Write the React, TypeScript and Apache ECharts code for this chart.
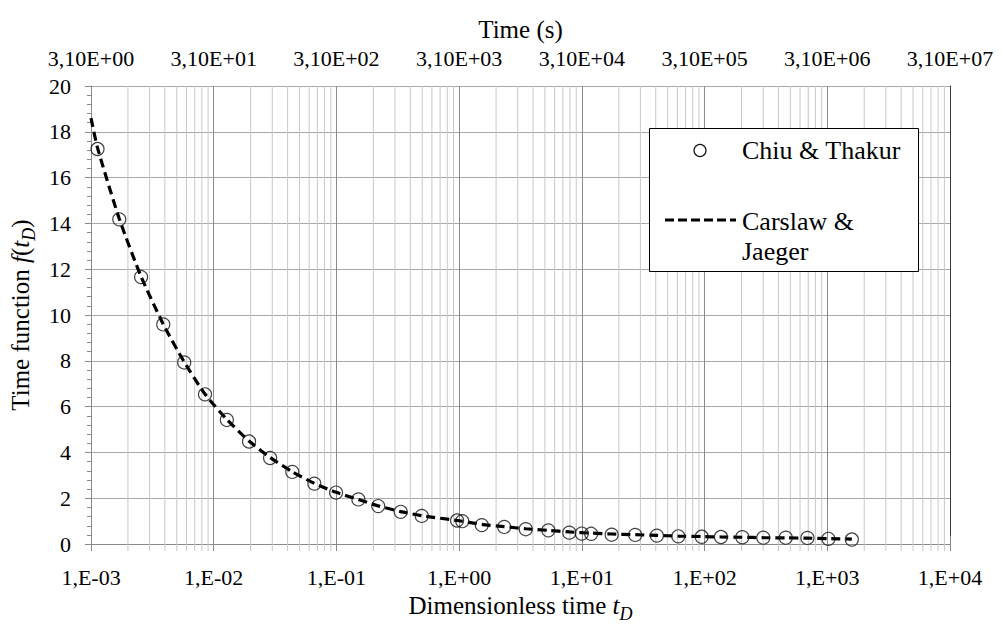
import React, { useEffect, useRef } from "react";
import * as echarts from "echarts";

// Chiu & Thakur values: dimensionless time and time function
const chiuT = [
  1.13e-3, 1.7e-3, 2.56e-3, 3.88e-3, 5.75e-3, 8.49e-3, 1.28e-2, 1.94e-2, 2.88e-2,
  4.37e-2, 6.61e-2, 9.93e-2, 0.151, 0.219, 0.334, 0.496, 0.962, 1.06, 1.53, 2.33,
  3.49, 5.33, 7.9, 9.98, 11.9, 17.5, 27.2, 40.8, 61.1, 94.8, 136, 203, 301, 459,
  689, 1021, 1585,
];
const chiuF = [
  17.25, 14.18, 11.66, 9.59, 7.93, 6.54, 5.42, 4.48, 3.76, 3.15, 2.64, 2.25, 1.95,
  1.66, 1.41, 1.23, 1.03, 1.0, 0.83, 0.75, 0.65, 0.6, 0.5, 0.46, 0.45, 0.41, 0.4,
  0.37, 0.34, 0.32, 0.31, 0.3, 0.28, 0.28, 0.27, 0.23, 0.2,
];

// Carslaw & Jaeger curve
const cjT = [
  1e-3, 1.13e-3, 1.7e-3, 2.56e-3, 3.88e-3, 5.75e-3, 8.49e-3, 1.28e-2, 1.94e-2,
  2.88e-2, 4.37e-2, 6.61e-2, 9.93e-2, 0.151, 0.219, 0.334, 0.496, 1.0, 1.53, 2.33,
  3.49, 5.33, 7.9, 11.9, 17.5, 27.2, 40.8, 61.1, 94.8, 136, 203, 301, 459, 689,
  1021, 1585,
];
const cjF = [
  18.6, 17.3, 14.2, 11.68, 9.6, 7.95, 6.55, 5.44, 4.5, 3.78, 3.16, 2.65, 2.26, 1.95,
  1.67, 1.42, 1.24, 1.02, 0.86, 0.76, 0.67, 0.6, 0.53, 0.48, 0.44, 0.41, 0.38, 0.35,
  0.33, 0.31, 0.3, 0.28, 0.27, 0.26, 0.24, 0.22,
];

// Axis ranges
const X_MIN = 1e-3;
const X_MAX = 1e4;
const Y_MIN = 0;
const Y_MAX = 20;
const Y_STEP = 2;
// Seconds per unit of dimensionless time (top axis)
const TIME_SCALE = 3100;

const FONT = "Liberation Serif, Times New Roman, serif";

const expStr = (e: number) => (e < 0 ? "-" : "+") + String(Math.abs(e)).padStart(2, "0");

const fmtBottom = (v: number) => "1,E" + expStr(Math.round(Math.log10(v)));

const fmtTop = (v: number) => {
  const t = v * TIME_SCALE;
  const e = Math.floor(Math.log10(t) + 1e-9);
  const m = t / Math.pow(10, e);
  return m.toFixed(2).replace(".", ",") + "E" + expStr(e);
};

// Minor log grid positions 2..9 x 10^k inside the x range
const minorGrid: number[] = [];
for (let k = Math.round(Math.log10(X_MIN)); k < Math.round(Math.log10(X_MAX)); k++) {
  for (let m = 2; m <= 9; m++) minorGrid.push(m * Math.pow(10, k));
}

const richName = {
  n: { fontFamily: FONT, fontSize: 25, color: "#000", verticalAlign: "top", lineHeight: 26 },
  it: {
    fontFamily: FONT,
    fontSize: 25,
    fontStyle: "italic",
    color: "#000",
    verticalAlign: "top",
    lineHeight: 26,
  },
  sub: {
    fontFamily: FONT,
    fontSize: 18,
    fontStyle: "italic",
    color: "#000",
    verticalAlign: "top",
    lineHeight: 18,
    padding: [12, 0, 0, 0],
  },
};

export default function App() {
  const ref = useRef<HTMLDivElement>(null);

  useEffect(() => {
    if (!ref.current) return;
    const chart = echarts.init(ref.current, null, { renderer: "svg" });

    const option: any = {
      animation: false,
      backgroundColor: "#fff",
      textStyle: { fontFamily: FONT },
      grid: { left: 91, right: 53, top: 86, bottom: 81.5, containLabel: false },
      xAxis: [
        {
          type: "log",
          logBase: 10,
          min: X_MIN,
          max: X_MAX,
          splitNumber: 10,
          position: "bottom",
          name: "{n|Dimensionless time }{it|t}{sub|D}",
          nameLocation: "middle",
          nameGap: 46,
          nameTextStyle: { fontFamily: FONT, rich: richName },
          axisLine: { show: true, lineStyle: { color: "#8a8a8a", width: 1 } },
          axisTick: { show: true, length: 7, lineStyle: { color: "#8a8a8a" } },
          minorTick: { show: false },
          axisLabel: {
            formatter: fmtBottom,
            fontFamily: FONT,
            fontSize: 22,
            color: "#000",
            margin: 22,
            showMinLabel: true,
            showMaxLabel: true,
          },
          splitLine: { show: true, lineStyle: { color: "#8a8a8a", width: 1 } },
        },
        {
          type: "log",
          logBase: 10,
          min: X_MIN,
          max: X_MAX,
          splitNumber: 10,
          position: "top",
          name: "Time (s)",
          nameLocation: "middle",
          nameGap: 41,
          nameTextStyle: { fontFamily: FONT, fontSize: 25, color: "#000", lineHeight: 26 },
          axisLine: { show: true, lineStyle: { color: "#8a8a8a", width: 1 } },
          axisTick: { show: true, length: 8, lineStyle: { color: "#8a8a8a" } },
          axisLabel: {
            formatter: fmtTop,
            fontFamily: FONT,
            fontSize: 22,
            color: "#000",
            margin: 17,
            showMinLabel: true,
            showMaxLabel: true,
          },
          splitLine: { show: false },
        },
      ],
      yAxis: [
        {
          type: "value",
          min: Y_MIN,
          max: Y_MAX,
          interval: Y_STEP,
          name: "{n|Time function }{it|f}{n|(}{it|t}{sub|D}{n|)}",
          nameLocation: "middle",
          nameRotate: 90,
          nameGap: 48,
          nameTextStyle: { fontFamily: FONT, rich: richName },
          axisLine: { show: true, lineStyle: { color: "#8a8a8a", width: 1 } },
          axisTick: { show: true, length: 6, lineStyle: { color: "#8a8a8a" } },
          minorTick: { show: true, splitNumber: 5, length: 4, lineStyle: { color: "#8a8a8a" } },
          axisLabel: { fontFamily: FONT, fontSize: 22, color: "#000", margin: 20 },
          splitLine: { show: true, lineStyle: { color: "#a8a8a8", width: 1 } },
        },
        {
          type: "value",
          min: Y_MIN,
          max: Y_MAX,
          position: "right",
          axisLine: { show: true, lineStyle: { color: "#3a3a3a", width: 1 } },
          axisTick: { show: false },
          axisLabel: { show: false },
          splitLine: { show: false },
        },
      ],
      series: [
        {
          // minor vertical grid of the log axis
          type: "custom",
          xAxisIndex: 0,
          yAxisIndex: 0,
          clip: false,
          silent: true,
          z: 1,
          data: minorGrid.map((v) => [v, 0]),
          encode: { x: 0, y: 1 },
          renderItem: (_params: any, api: any) => {
            const v = api.value(0);
            const top = api.coord([v, Y_MAX]);
            const bot = api.coord([v, Y_MIN]);
            return {
              type: "line",
              shape: { x1: top[0], y1: top[1], x2: bot[0], y2: bot[1] + 7 },
              style: { stroke: "#c8c8c8", lineWidth: 1 },
            };
          },
        },
        {
          name: "Carslaw & Jaeger",
          type: "line",
          xAxisIndex: 0,
          yAxisIndex: 0,
          data: cjT.map((t, i) => [t, cjF[i]]),
          showSymbol: false,
          symbol: "none",
          smooth: 0.2,
          z: 3,
          lineStyle: { color: "#000", width: 3.2, type: [9, 5] },
        },
        {
          name: "Chiu & Thakur",
          type: "scatter",
          xAxisIndex: 0,
          yAxisIndex: 0,
          data: chiuT.map((t, i) => [t, chiuF[i]]),
          symbol: "circle",
          symbolSize: 13,
          z: 4,
          itemStyle: { color: "rgba(0,0,0,0)", borderColor: "#111", borderWidth: 1.2 },
        },
      ],
      graphic: [
        {
          type: "rect",
          z: 100,
          shape: { x: 649.5, y: 128.5, width: 269, height: 143 },
          style: { fill: "#fff", stroke: "#000", lineWidth: 1 },
        },
        {
          type: "circle",
          z: 101,
          shape: { cx: 700, cy: 150.5, r: 6 },
          style: { fill: "none", stroke: "#111", lineWidth: 1.2 },
        },
        {
          type: "text",
          z: 101,
          x: 742,
          y: 150,
          style: {
            text: "Chiu & Thakur",
            fontFamily: FONT,
            fontSize: 26,
            fill: "#000",
            align: "left",
            verticalAlign: "middle",
          },
        },
        {
          type: "line",
          z: 101,
          shape: { x1: 665, y1: 220, x2: 736, y2: 220 },
          style: { stroke: "#000", lineWidth: 3.2, lineDash: [9, 4] },
        },
        {
          type: "text",
          z: 101,
          x: 742,
          y: 221,
          style: {
            text: "Carslaw &",
            fontFamily: FONT,
            fontSize: 26,
            fill: "#000",
            align: "left",
            verticalAlign: "middle",
          },
        },
        {
          type: "text",
          z: 101,
          x: 742,
          y: 251,
          style: {
            text: "Jaeger",
            fontFamily: FONT,
            fontSize: 26,
            fill: "#000",
            align: "left",
            verticalAlign: "middle",
          },
        },
      ],
    };

    chart.setOption(option);
    return () => chart.dispose();
  }, []);

  return (
    <div
      ref={ref}
      style={{ position: "fixed", left: 0, top: 0, width: 1003, height: 628, background: "#fff" }}
    />
  );
}
